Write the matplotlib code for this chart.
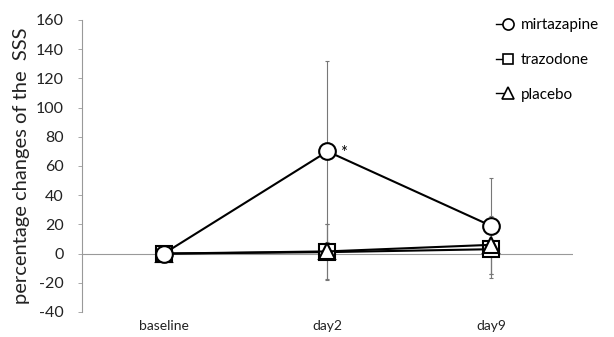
import matplotlib
matplotlib.use("Agg")
import matplotlib.pyplot as plt
from matplotlib.lines import Line2D

categories = ["baseline", "day2", "day9"]
mirtazapine = [0, 70, 19]
mirtazapine_err = [0, 62, 33]
trazodone = [0, 1, 3]
trazodone_err = [0, 19, 20]
placebo = [0, 1.5, 6]
placebo_err = [0, 19, 20]
yticks = [-40, -20, 0, 20, 40, 60, 80, 100, 120, 140, 160]

plt.rcParams['font.family'] = ['Lato', 'DejaVu Sans']

fig = plt.figure(figsize=(6.14, 3.37), dpi=100)
ax = fig.add_axes([0.1336, 0.0742, 0.7995, 0.8665])

x = list(range(len(categories)))
ax.axhline(0, color='#999999', lw=0.8, zorder=1)

for vals, errs, mk, ms, lab in [
    (trazodone, trazodone_err, 's', 11, 'trazodone'),
    (placebo, placebo_err, '^', 11, 'placebo'),
    (mirtazapine, mirtazapine_err, 'o', 12, 'mirtazapine'),
]:
    ax.errorbar(x, vals, yerr=errs, fmt='none', ecolor='#777777', elinewidth=0.8,
                capsize=1.5, capthick=0.8, zorder=2)
    ax.plot(x, vals, color='black', lw=1.5, marker=mk, ms=ms, mfc='white',
            mec='black', mew=1.5, zorder=3, label=lab)

ax.text(x[1] + 0.1, mirtazapine[1] - 1, '*', fontsize=12, ha='center', va='center')

ax.set_xlim(-0.5, 2.5)
ax.set_ylim(-40, 160)
ax.set_yticks(yticks)
ax.set_yticklabels([str(v) for v in yticks], fontsize=11.5, color='#222222')
ax.set_xticks(x)
ax.set_xticklabels(categories, fontsize=10, color='#222222')
ax.tick_params(axis='x', length=0, pad=6)
ax.tick_params(axis='y', length=3, width=0.6, color='#999999', pad=10)
for s in ['top', 'right', 'bottom']:
    ax.spines[s].set_visible(False)
ax.spines['left'].set_color('#999999')
ax.spines['left'].set_linewidth(0.8)
ax.set_ylabel('percentage changes of the  SSS', fontsize=14.5, color='#222222', labelpad=4)

handles = [
    Line2D([], [], color='black', lw=1, marker='o', ms=8, mfc='white', mec='black', mew=1.2),
    Line2D([], [], color='black', lw=1, marker='s', ms=7, mfc='white', mec='black', mew=1.2),
    Line2D([], [], color='black', lw=1, marker='^', ms=8, mfc='white', mec='black', mew=1.2),
]
leg = ax.legend(handles, ['mirtazapine', 'trazodone', 'placebo'], loc='upper left',
                bbox_to_anchor=(0.816, 1.053), frameon=False, fontsize=11,
                handlelength=1.0, handletextpad=0.6, labelspacing=1.36)
for h in leg.legend_handles:
    xd = list(h.get_xdata())
    if len(xd) == 3:
        h.set_xdata([xd[0], xd[2] - 0.25 * (xd[2] - xd[0]), xd[2] - 0.25 * (xd[2] - xd[0])])

fig.savefig('out.png', dpi=100)
